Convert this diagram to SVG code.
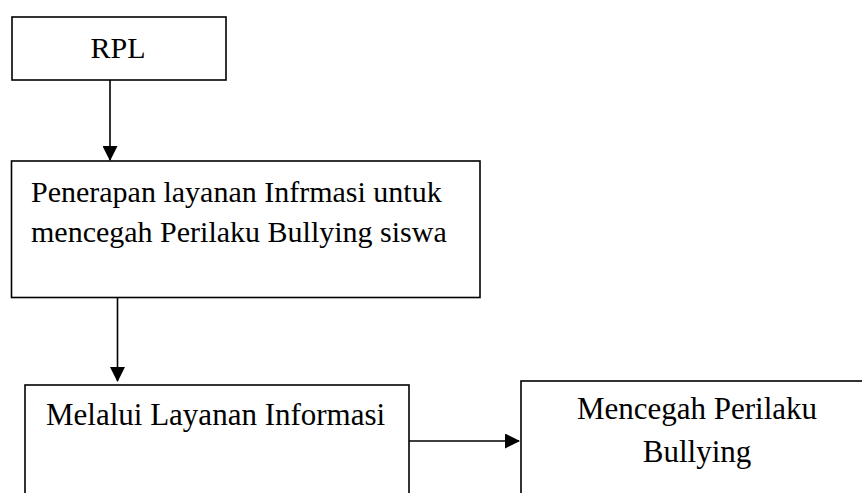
<svg xmlns="http://www.w3.org/2000/svg" width="862" height="493" viewBox="0 0 862 493">
<style>
.box{fill:#fff;stroke:#000;stroke-width:1.6}
.t{font-family:"Liberation Serif","Times New Roman",serif;fill:#000}
.ln{stroke:#000;stroke-width:1.6;fill:none}
</style>
<defs>
<marker id="ah" markerWidth="15" markerHeight="15" refX="14" refY="7.5" orient="auto" markerUnits="userSpaceOnUse">
<path d="M0,0 L15,7.5 L0,15 Z" fill="#000"/>
</marker>
</defs>
<rect width="862" height="493" fill="#fff"/>
<g id="connectors">
<line class="ln" x1="110" y1="80" x2="110" y2="160" marker-end="url(#ah)"/>
<line class="ln" x1="117.5" y1="298" x2="117.5" y2="381" marker-end="url(#ah)"/>
<line class="ln" x1="407" y1="441" x2="519" y2="441" marker-end="url(#ah)"/>
</g>
<g id="rpl">
<rect class="box" x="12" y="17" width="214" height="63"/>
<text class="t" x="118" y="58" font-size="30" text-anchor="middle">RPL</text>
</g>
<g id="penerapan">
<rect class="box" x="11.5" y="161" width="468.5" height="136.5"/>
<text class="t" x="31" y="202" font-size="30">Penerapan layanan Infrmasi untuk</text>
<text class="t" x="31" y="242" font-size="30">mencegah Perilaku Bullying siswa</text>
</g>
<g id="melalui">
<rect class="box" x="25" y="385" width="384" height="120"/>
<text class="t" x="46" y="425" font-size="31">Melalui Layanan Informasi</text>
</g>
<g id="mencegah">
<rect class="box" x="521" y="381" width="352" height="124"/>
<text class="t" x="697" y="419" font-size="31" text-anchor="middle">Mencegah Perilaku</text>
<text class="t" x="697" y="462" font-size="31" text-anchor="middle">Bullying</text>
</g>
</svg>
